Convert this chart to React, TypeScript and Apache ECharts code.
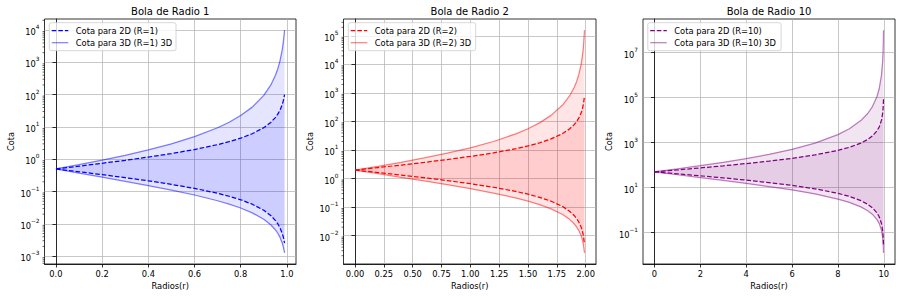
import React, { useEffect, useRef } from 'react';
import * as echarts from 'echarts';

// ---------- Panel 1: Bola de Radio 1 ----------
const X_1 = [0, 0.1, 0.2, 0.3, 0.4, 0.5, 0.6, 0.7, 0.75, 0.8, 0.85, 0.9, 0.93, 0.95, 0.96, 0.97, 0.98, 0.985, 0.99];
const UP2D_1 = [0.5, 0.6111, 0.75, 0.9286, 1.1667, 1.5, 2.0, 2.8333, 3.5, 4.5, 6.1667, 9.5, 13.786, 19.5, 24.5, 32.833, 49.5, 66.167, 99.5];
const LO2D_1 = [0.5, 0.40909, 0.33333, 0.26923, 0.21429, 0.16667, 0.125, 0.088235, 0.071429, 0.055556, 0.040541, 0.026316, 0.018135, 0.012821, 0.010204, 0.0076142, 0.0050505, 0.0037783, 0.0025126];
const UP3D_1 = [0.5, 0.67901, 0.9375, 1.3265, 1.9444, 3.0, 5.0, 9.4444, 14, 22.5, 41.111, 95, 196.94, 390, 612.5, 1094.4, 2475, 4411.1, 9950];
const LO3D_1 = [0.5, 0.3719, 0.27778, 0.2071, 0.15306, 0.11111, 0.078125, 0.051903, 0.040816, 0.030864, 0.021914, 0.01385, 0.0093964, 0.0065749, 0.0052062, 0.0038651, 0.0025508, 0.0019034, 0.0012626];

// ---------- Panel 2: Bola de Radio 2 ----------
const X_2 = [0, 0.2, 0.4, 0.6, 0.8, 1.0, 1.2, 1.4, 1.5, 1.6, 1.7, 1.8, 1.86, 1.9, 1.92, 1.94, 1.96, 1.97, 1.98, 1.99];
const UP2D_2 = [2, 2.4444, 3.0, 3.7143, 4.6667, 6, 8, 11.333, 14, 18, 24.667, 38, 55.143, 78, 98, 131.33, 198, 264.67, 398, 798];
const LO2D_2 = [2, 1.63636, 1.33333, 1.07692, 0.85714, 0.66667, 0.5, 0.35294, 0.28571, 0.22222, 0.16216, 0.10526, 0.072539, 0.051282, 0.040816, 0.030457, 0.020202, 0.015113, 0.01005, 0.0050125];
const UP3D_2 = [2, 2.716, 3.75, 5.3061, 7.7778, 12, 20, 37.778, 56, 90, 164.44, 380, 787.76, 1560, 2450, 4377.8, 9900, 17644, 39800, 159600];
const LO3D_2 = [2, 1.4876, 1.11111, 0.8284, 0.61224, 0.44444, 0.3125, 0.20761, 0.16327, 0.12346, 0.087655, 0.055402, 0.037585, 0.026299, 0.020825, 0.01546, 0.010203, 0.0076136, 0.0050503, 0.0025125];

// ---------- Panel 3: Bola de Radio 10 ----------
const X_3 = [0, 1, 2, 3, 4, 5, 6, 7, 8, 8.5, 9, 9.3, 9.5, 9.7, 9.8, 9.9, 9.95, 9.97, 9.98, 9.99];
const UP2D_3 = [50, 61.111, 75, 92.857, 116.67, 150, 200, 283.33, 450, 616.67, 950, 1378.6, 1950, 3283.3, 4950, 9950, 19950, 33283, 49950, 99950];
const LO2D_3 = [50, 40.909, 33.333, 26.923, 21.429, 16.667, 12.5, 8.8235, 5.5556, 4.0541, 2.6316, 1.8135, 1.2821, 0.76142, 0.50505, 0.25126, 0.12531, 0.075113, 0.05005, 0.025013];
const UP3D_3 = [50, 67.901, 93.75, 132.65, 194.44, 300, 500, 944.44, 2250, 4111.1, 9500, 19694, 39000, 109444, 247500, 995000, 3990000, 11094000, 24975000, 99950000];
const LO3D_3 = [50, 37.19, 27.778, 20.71, 15.306, 11.111, 7.8125, 5.1903, 3.0864, 2.1914, 1.385, 0.93964, 0.65749, 0.38651, 0.25508, 0.12626, 0.062812, 0.037613, 0.02505, 0.012513];

// ---------- Ticks ----------
const X_TICKS_1 = [0, 0.2, 0.4, 0.6, 0.8, 1.0];
const X_TICKS_2 = [0, 0.25, 0.5, 0.75, 1.0, 1.25, 1.5, 1.75, 2.0];
const X_TICKS_3 = [0, 2, 4, 6, 8, 10];
const Y_TICKS_1 = [1e-3, 1e-2, 1e-1, 1, 10, 100, 1000, 10000];
const Y_TICKS_2 = [1e-2, 1e-1, 1, 10, 100, 1000, 10000, 100000];
const Y_TICKS_3 = [1e-1, 1e1, 1e3, 1e5, 1e7];
const MINOR_MULTS = [2, 3, 4, 5, 6, 7, 8, 9];
const MINOR_DECADES_1 = [-4, -3, -2, -1, 0, 1, 2, 3, 4];
const MINOR_DECADES_2 = [-3, -2, -1, 0, 1, 2, 3, 4, 5];
const MINOR_DECADES_3: number[] = [];

const TITLES = ['Bola de Radio 1', 'Bola de Radio 2', 'Bola de Radio 10'];
const LEG_2D = ['Cota para 2D (R=1)', 'Cota para 2D (R=2)', 'Cota para 2D (R=10)'];
const LEG_3D = ['Cota para 3D (R=1) 3D', 'Cota para 3D (R=2) 3D', 'Cota para 3D (R=10) 3D'];

const FONT = "'DejaVu Sans', sans-serif";

type Panel = {
  x: number[]; u2: number[]; l2: number[]; u3: number[]; l3: number[];
  rgb: string; xRange: [number, number]; yLog: [number, number];
  xTicks: number[]; yTicks: number[]; digits: number; minorDecades: number[];
  left: number; width: number; legendW: number;
};

const PANELS: Panel[] = [
  { x: X_1, u2: UP2D_1, l2: LO2D_1, u3: UP3D_1, l3: LO3D_1, rgb: '0,0,255', xRange: [-0.0495, 1.0395], yLog: [-3.24356, 4.34265], xTicks: X_TICKS_1, yTicks: Y_TICKS_1, digits: 1, minorDecades: MINOR_DECADES_1, left: 44.5, width: 251.5, legendW: 126.7 },
  { x: X_2, u2: UP2D_2, l2: LO2D_2, u3: UP3D_2, l3: LO3D_2, rgb: '255,0,0', xRange: [-0.0995, 2.0895], yLog: [-2.99003, 5.59318], xTicks: X_TICKS_2, yTicks: Y_TICKS_2, digits: 2, minorDecades: MINOR_DECADES_2, left: 343.5, width: 252.5, legendW: 127.4 },
  { x: X_3, u2: UP2D_3, l2: LO2D_3, u3: UP3D_3, l3: LO3D_3, rgb: '128,0,128', xRange: [-0.4995, 10.4895], yLog: [-2.39776, 8.4949], xTicks: X_TICKS_3, yTicks: Y_TICKS_3, digits: 0, minorDecades: MINOR_DECADES_3, left: 643, width: 252, legendW: 133.3 },
];

const TOP = 19;
const HEIGHT = 245;

const supLabel = (v: number) => {
  const e = Math.round(Math.log10(v));
  return '{b|10}{s|' + (e < 0 ? '\u2212' + Math.abs(e) : String(e)) + '}';
};

function buildOption() {
  const grid: any[] = [];
  const xAxis: any[] = [];
  const yAxis: any[] = [];
  const series: any[] = [];
  const graphic: any[] = [];

  PANELS.forEach((p, i) => {
    const solid = `rgb(${p.rgb})`;
    grid.push({
      left: p.left, top: TOP, width: p.width, height: HEIGHT,
      show: true, borderColor: '#000', borderWidth: 0.8, backgroundColor: 'transparent',
      containLabel: false, outerBoundsMode: 'none',
    });
    xAxis.push({
      type: 'value', gridIndex: i, min: p.xRange[0], max: p.xRange[1],
      axisLine: { show: true, onZero: false, lineStyle: { color: '#000', width: 0.8 } },
      axisTick: { show: true, length: 3.5, inside: false, customValues: p.xTicks, lineStyle: { color: '#000', width: 0.8 } },
      axisLabel: {
        customValues: p.xTicks, margin: 6, fontSize: 8.3, color: '#000', fontFamily: FONT,
        formatter: (v: number) => v.toFixed(p.digits),
      },
      splitLine: { show: true, lineStyle: { color: '#b0b0b0', width: 0.7 } },
      name: 'Radios(r)', nameLocation: 'middle', nameGap: 17.5, nameMoveOverlap: false,
      nameTextStyle: { fontSize: 8.3, color: '#000', fontFamily: FONT },
    });
    yAxis.push({
      type: 'log', logBase: 10, gridIndex: i,
      min: Math.pow(10, p.yLog[0]), max: Math.pow(10, p.yLog[1]),
      axisLine: { show: true, lineStyle: { color: '#000', width: 0.8 } },
      axisTick: { show: true, length: 3.5, inside: false, customValues: p.yTicks, lineStyle: { color: '#000', width: 0.8 } },
      axisLabel: {
        customValues: p.yTicks, margin: 5, color: '#000', fontFamily: FONT,
        formatter: supLabel,
        rich: {
          b: { fontSize: 8.3, fontFamily: FONT, color: '#000', lineHeight: 12, verticalAlign: 'bottom' },
          s: { fontSize: 5.8, fontFamily: FONT, color: '#000', lineHeight: 7, verticalAlign: 'top' },
        },
      },
      minorTick: { show: false },
      splitLine: { show: true, lineStyle: { color: '#b0b0b0', width: 0.7 } },
      name: 'Cota', nameLocation: 'middle', nameGap: 30, nameRotate: 90, nameMoveOverlap: false,
      nameTextStyle: { fontSize: 8.3, color: '#000', fontFamily: FONT },
    });

    const lo = Math.pow(10, p.yLog[0]);
    const hi = Math.pow(10, p.yLog[1]);

    const fill = (lower: number[], upper: number[], color: string) => ({
      type: 'custom', xAxisIndex: i, yAxisIndex: i, silent: true, clip: false, z: 1,
      data: p.x.map((x, k) => [x, lower[k], upper[k]]),
      encode: { x: 0, y: [1, 2] },
      renderItem: (params: any, api: any) => {
        if (params.dataIndex !== 0) return null;
        const top = p.x.map((x, k) => api.coord([x, upper[k]]));
        const bot = p.x.map((x, k) => api.coord([x, lower[k]])).reverse();
        return { type: 'polygon', shape: { points: top.concat(bot) }, style: { fill: color, stroke: null } };
      },
    });
    series.push(fill(p.l3, p.u3, `rgba(${p.rgb},0.1)`));
    series.push(fill(p.l2, p.u2, `rgba(${p.rgb},0.1)`));

    const line = (ys: number[], dashed: boolean) => ({
      type: 'line', xAxisIndex: i, yAxisIndex: i, symbol: 'none', smooth: false, silent: true, z: 3,
      data: p.x.map((x, k) => [x, ys[k]]),
      lineStyle: dashed
        ? { color: solid, width: 1.25, type: [4.6, 2] }
        : { color: solid, width: 1.25, opacity: 0.5 },
    });
    series.push(line(p.u3, false));
    series.push(line(p.l3, false));
    series.push(line(p.u2, true));
    series.push(line(p.l2, true));

    const minors: number[] = [];
    p.minorDecades.forEach((d) => MINOR_MULTS.forEach((m) => {
      const v = m * Math.pow(10, d);
      if (v > lo && v < hi) minors.push(v);
    }));
    if (minors.length) {
      series.push({
        type: 'custom', xAxisIndex: i, yAxisIndex: i, silent: true, clip: false, z: 10,
        data: minors.map((v) => [p.xRange[0], v]),
        renderItem: (params: any, api: any) => {
          const pt = api.coord([api.value(0), api.value(1)]);
          return { type: 'line', shape: { x1: pt[0] - 2, y1: pt[1], x2: pt[0], y2: pt[1] }, style: { stroke: '#000', lineWidth: 0.6 } };
        },
      });
    }

    // title
    graphic.push({
      type: 'text', x: p.left + p.width / 2, y: 11, z: 100,
      style: { text: TITLES[i], fontSize: 10, fontFamily: FONT, fill: '#000', textAlign: 'center', textVerticalAlign: 'middle', align: 'center', verticalAlign: 'middle' },
    });
    // legend
    const bx = p.left + 4.8;
    const by = 22.7;
    graphic.push({
      type: 'rect', z: 100, shape: { x: bx, y: by, width: p.legendW, height: 28, r: 2 },
      style: { fill: 'rgba(255,255,255,0.8)', stroke: '#cccccc', lineWidth: 0.8 },
    });
    graphic.push({
      type: 'line', z: 101, shape: { x1: bx + 2.4, y1: by + 8, x2: bx + 19, y2: by + 8 },
      style: { stroke: solid, lineWidth: 1.25, lineDash: [4.6, 2] },
    });
    graphic.push({
      type: 'line', z: 101, shape: { x1: bx + 2.4, y1: by + 20, x2: bx + 19, y2: by + 20 },
      style: { stroke: `rgba(${p.rgb},0.5)`, lineWidth: 1.25 },
    });
    graphic.push({
      type: 'text', z: 101, x: bx + 26.5, y: by + 8,
      style: { text: LEG_2D[i], fontSize: 8.3, fontFamily: FONT, fill: '#000', textVerticalAlign: 'middle', verticalAlign: 'middle' },
    });
    graphic.push({
      type: 'text', z: 101, x: bx + 26.5, y: by + 20,
      style: { text: LEG_3D[i], fontSize: 8.3, fontFamily: FONT, fill: '#000', textVerticalAlign: 'middle', verticalAlign: 'middle' },
    });
  });

  return {
    animation: false,
    backgroundColor: '#ffffff',
    textStyle: { fontFamily: FONT },
    grid, xAxis, yAxis, series, graphic,
  };
}

export default function App() {
  const ref = useRef<HTMLDivElement>(null);
  useEffect(() => {
    if (!ref.current) return;
    const chart = echarts.init(ref.current, undefined, { renderer: 'svg' });
    chart.setOption(buildOption() as any);
    return () => chart.dispose();
  }, []);
  return <div ref={ref} style={{ position: 'absolute', left: 0, top: 0, width: 900, height: 296 }} />;
}
